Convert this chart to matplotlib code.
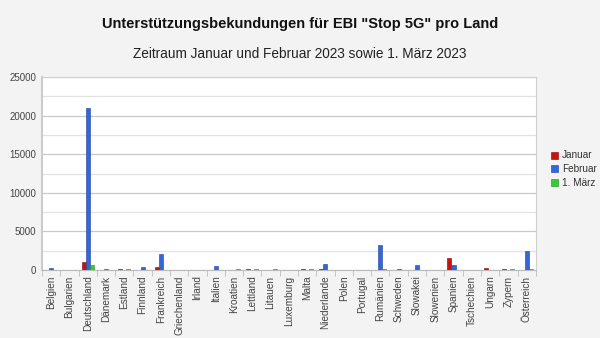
import matplotlib
matplotlib.use("Agg")
import matplotlib.pyplot as plt
import numpy as np

plt.rcParams['font.family'] = ['Liberation Sans', 'DejaVu Sans']

countries = ["Belgien", "Bulgarien", "Deutschland", "Dänemark", "Estland", "Finnland",
             "Frankreich", "Griechenland", "Irland", "Italien", "Kroatien", "Lettland",
             "Litauen", "Luxemburg", "Malta", "Niederlande", "Polen", "Portugal",
             "Rumänien", "Schweden", "Slowakei", "Slowenien", "Spanien", "Tschechien",
             "Ungarn", "Zypern", "Österreich"]
januar = [30, 10, 1050, 50, 100, 30, 400, 20, 20, 60, 30, 100, 10, 10, 100, 100, 20, 20,
          30, 30, 50, 20, 1500, 20, 300, 100, 50]
februar = [300, 10, 21000, 200, 20, 450, 2100, 30, 20, 550, 40, 20, 10, 50, 20, 850, 40, 20,
           3300, 100, 650, 30, 650, 20, 50, 20, 2450]
maerz = [20, 5, 700, 20, 80, 30, 50, 10, 10, 40, 80, 80, 80, 10, 80, 50, 10, 10,
         150, 20, 30, 10, 50, 10, 20, 80, 80]
series_names = ["Januar", "Februar", "1. März"]
colors = ["#cc1111", "#3366dd", "#33cc33"]
edges = ["#880000", "#1d3f99", "#1f8f1f"]

fig = plt.figure(figsize=(6, 3.38), dpi=100, facecolor="#f3f3f3")
ax = fig.add_axes([0.07, 0.201, 0.823, 0.571])
ax.set_facecolor("white")

x = np.arange(len(countries))
w = 0.22
for i, (vals, name) in enumerate(zip([januar, februar, maerz], series_names)):
    ax.bar(x + (i - 1) * w, vals, width=w, color=colors[i], edgecolor=edges[i],
           linewidth=0.4, label=name, zorder=3)

ax.set_xlim(-0.5, len(countries) - 0.5)
ax.set_ylim(0, 25000)
ax.set_yticks(np.arange(0, 25001, 5000))
ax.set_yticks(np.arange(2500, 25000, 5000), minor=True)
ax.yaxis.grid(True, which="major", color="#c8c8c8", linewidth=0.9, zorder=0)
ax.yaxis.grid(True, which="minor", color="#e2e2e2", linewidth=0.9, zorder=0)
ax.tick_params(axis="y", which="both", length=0, labelsize=7, labelcolor="#444444", pad=4)

ax.set_xticks(x)
ax.set_xticklabels(countries, rotation=90, fontsize=7.2, color="#444444")
ax.tick_params(axis="x", which="major", length=0, pad=4)
ax.set_xticks(np.arange(-0.5, len(countries), 1), minor=True)
ax.tick_params(axis="x", which="minor", length=4, color="#bbbbbb")

for s in ["top", "right"]:
    ax.spines[s].set_color("#d0d0d0")
ax.spines["bottom"].set_color("#bbbbbb")
ax.spines["left"].set_color("#cccccc")
ax.spines["left"].set_linewidth(1.5)

fig.text(0.5, 0.93, 'Unterstützungsbekundungen für EBI "Stop 5G" pro Land',
         ha="center", va="center", fontsize=10.5, fontweight="bold", color="#111111")
fig.text(0.5, 0.84, "Zeitraum Januar und Februar 2023 sowie 1. März 2023",
         ha="center", va="center", fontsize=9.8, color="#222222")

leg = fig.legend(loc="center left", bbox_to_anchor=(0.912, 0.5), frameon=False,
                 fontsize=7.2, handlelength=0.7, handleheight=0.7, handletextpad=0.4,
                 labelspacing=0.35, borderaxespad=0)
for t in leg.get_texts():
    t.set_color("#333333")

fig.savefig("out.png", dpi=100, facecolor=fig.get_facecolor())
